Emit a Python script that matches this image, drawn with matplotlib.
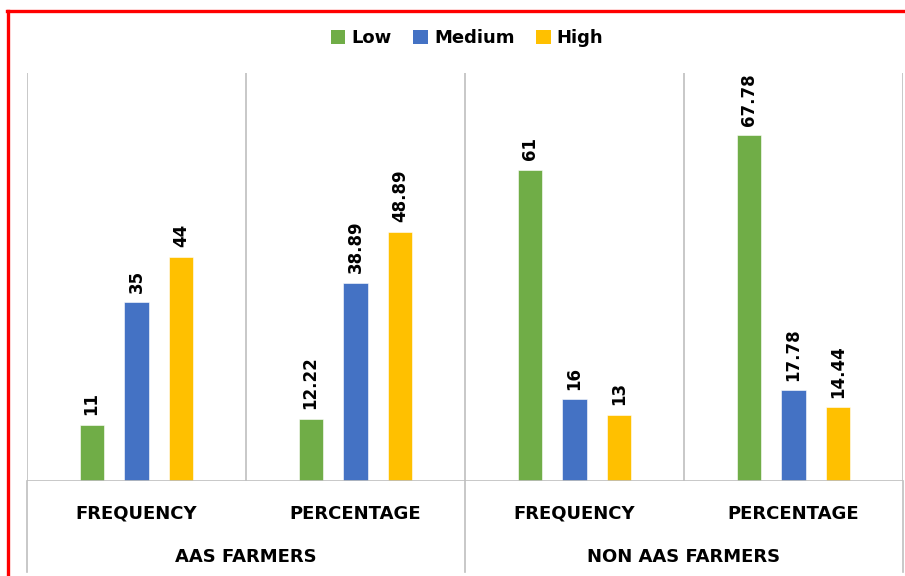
import numpy as np
import matplotlib.pyplot as plt
from matplotlib.lines import Line2D
from matplotlib.patches import Patch

# ---------- data ----------
groups = ["AAS FARMERS", "NON AAS FARMERS"]
measures = ["FREQUENCY", "PERCENTAGE", "FREQUENCY", "PERCENTAGE"]
levels = ["Low", "Medium", "High"]
low = [11, 12.22, 61, 67.78]
medium = [35, 38.89, 16, 17.78]
high = [44, 48.89, 13, 14.44]
labels_low = ["11", "12.22", "61", "67.78"]
labels_medium = ["35", "38.89", "16", "17.78"]
labels_high = ["44", "48.89", "13", "14.44"]

colors = ["#70AD47", "#4472C4", "#FFC000"]
grid_c = "#BFBFBF"

plt.rcParams["font.family"] = ["DejaVu Sans"]

W, H = 905, 576
fig = plt.figure(figsize=(W / 100, H / 100), dpi=100)
ax = fig.add_axes([27 / W, 1 - 481 / H, (903 - 27) / W, (481 - 73) / H])

x = np.arange(len(measures)) + 0.5
offset = 0.205
width = 0.11
series = [(low, labels_low), (medium, labels_medium), (high, labels_high)]
for k, (vals, labs) in enumerate(series):
    xs = x + (k - 1) * offset
    ax.bar(xs, vals, width=width, color=colors[k], edgecolor="white",
           linewidth=0.4, zorder=3)
    for xi, v, t in zip(xs, vals, labs):
        ax.annotate(t, (xi, v), xytext=(0, 7), textcoords="offset points",
                    rotation=90, ha="center", va="bottom", fontsize=12,
                    fontweight="bold", color="black")

ax.set_xlim(0, 4)
ax.set_ylim(0, 80)
ax.set_xticks([])
ax.set_yticks([])
for s in ax.spines.values():
    s.set_visible(False)

# inner category separators
for b in range(5):
    ax.axvline(b, color=grid_c, lw=1.2, zorder=1)
ax.axhline(0, color=grid_c, lw=1.2, zorder=4)

# outer separators continue down through the category labels
for b in (0, 2, 4):
    xf = (27 + b * (903 - 27) / 4) / W
    fig.add_artist(Line2D([xf, xf], [1 - 572 / H, 1 - 481 / H],
                          color=grid_c, lw=1.2))

for xi, m in zip(x, measures):
    ax.text(xi, -6.4, m, ha="center", va="center", fontsize=13,
            fontweight="bold", transform=ax.transData, clip_on=False)
for gi, g in enumerate(groups):
    ax.text(1 + 2 * gi, -14.9, g, ha="center", va="center", fontsize=13,
            fontweight="bold", transform=ax.transData, clip_on=False)

handles = [Patch(facecolor=c, edgecolor="none") for c in colors]
fig.legend(handles, levels, loc="center", bbox_to_anchor=(467 / W, 1 - 38 / H),
           ncol=3, frameon=False, handlelength=0.8, handleheight=0.8,
           handletextpad=0.35, columnspacing=1.2,
           prop={"weight": "bold", "size": 13})

# red frame around the chart
fig.add_artist(Line2D([8 / W, 8 / W], [0, 1 - 11 / H], color="#FF0000", lw=2.4))
fig.add_artist(Line2D([7 / W, 1], [1 - 11 / H, 1 - 11 / H], color="#FF0000", lw=2.4))

fig.savefig("out.png", dpi=100)
